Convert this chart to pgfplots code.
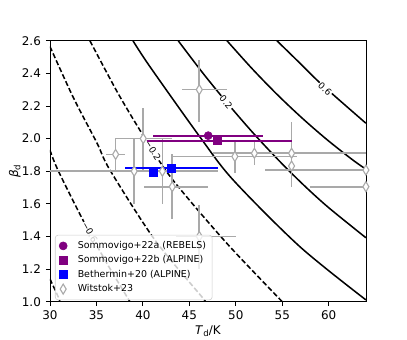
\documentclass[border=0pt]{standalone}
\usepackage{fontspec}
\setmainfont{DejaVu Sans}
\usepackage{pgfplots}
\usepackage{pgfplotstable}
\pgfplotsset{compat=1.18}
\definecolor{mplpurple}{RGB}{128,0,128}
\definecolor{mplgray}{RGB}{169,169,169}
\definecolor{mplblue}{RGB}{0,0,255}

% Witstok+23: x y x- x+ y- y+
\pgfplotstableread{
x      y     exm   exp   eym   eyp
46.07  2.30  1.90  2.94  0.20  0.18
40.04  2.00  3.04  3.06  0.20  0.19
37.07  1.903 1.05  1.05  0.10  0.10
39.07  1.80  9.50  9.00  0.20  0.20
42.10  1.80  0.00  0.00  0.20  0.20
43.16  1.705 3.00  3.87  0.20  0.20
46.07  1.40  2.50  4.00  0.20  0.19
49.90  1.89  6.70  6.70  0.10  0.10
52.00  1.91  0.90  0.90  0.07  0.07
56.00  1.91  8.50  8.50  0.205 0.19
56.00  1.832 0.00  0.00  0.00  0.00
64.00  1.807 10.9  0.00  0.00  0.00
64.00  1.705 6.00  0.00  0.00  0.00
}\witstok

\pgfplotstableread{
x      y     exm   exp
47.03  2.018 5.95  5.95
}\somma
\pgfplotstableread{
x      y     exm   exp
48.04  1.987 7.64  7.96
}\sommb
\pgfplotstableread{
x      y     exm   exp
41.12  1.791 0.50  0.50
43.09  1.818 5.02  4.95
}\beth

\begin{document}
\begin{tikzpicture}
\begin{axis}[
  scale only axis, width=227.5pt, height=187.9pt,
  xmin=30, xmax=64, ymin=1.0, ymax=2.6,
  xtick={30,35,40,45,50,55,60},
  ytick={1.0,1.2,1.4,1.6,1.8,2.0,2.2,2.4,2.6},
  yticklabel style={/pgf/number format/.cd,fixed,fixed zerofill,precision=1},
  /pgf/number format/assume math mode=true,
  tick label style={font=\fontsize{8.6}{10}\selectfont},
  tick align=outside, xtick pos=bottom, ytick pos=left,
  major tick length=3pt,
  every tick/.style={black,line width=0.6pt},
  axis line style={line width=0.6pt},
  xlabel={\textit{T}\raisebox{-0.35ex}{\fontsize{6.2}{7}\selectfont d}/K},
  ylabel={\textit{β}\raisebox{-0.35ex}{\fontsize{6.2}{7}\selectfont d}},
  label style={font=\fontsize{8.6}{10}\selectfont},
  xlabel style={at={(axis description cs:0.5,-0.112)},anchor=center},
  ylabel style={at={(axis description cs:-0.111,0.5)},anchor=center},
  legend cell align=left,
  legend style={at={(0.016,0.006)},anchor=south west,
    font=\fontsize{6.8}{8}\selectfont,
    draw=black!20,rounded corners=2pt,fill=white,
    fill opacity=0.8,draw opacity=1,text opacity=1,
    row sep=0.5pt,inner sep=2.8pt,nodes={inner sep=1.6pt}},
  legend image post style={opacity=1},
  clip mode=individual,
]
% contours
\pgfplotsset{cont/.style={black,line width=1.1pt,smooth,forget plot},
  neg/.style={dash pattern=on 3.7pt off 1.8pt}}
\addplot[cont,neg] coordinates {(30,1.14) (30.89,1.03) (31.08,1.0)};
\addplot[cont,neg] coordinates {(30,1.930) (30.86,1.807) (33.55,1.501) (36.08,1.24) (38.61,1.0)};
\addplot[cont,neg] coordinates {(30,2.565) (32.53,2.25) (35.06,1.973) (36.46,1.807) (41.30,1.378) (46.46,1.022) (46.68,1.0)};
\addplot[cont,neg] coordinates {(34.30,2.600) (37.4,2.27) (40.54,1.973) (43.23,1.746) (49.0,1.36) (55.0,1.0)};
\addplot[cont] coordinates {(38.93,2.600) (40.76,2.441) (46.14,2.010) (49.72,1.746) (56.90,1.337) (64.0,1.011)};
\addplot[cont] coordinates {(43.80,2.600) (46.49,2.399) (49.18,2.211) (51.87,2.034) (54.56,1.870) (57.25,1.718) (59.94,1.579) (64.0,1.392)};
\addplot[cont] coordinates {(49.05,2.600) (51.73,2.430) (54.42,2.272) (57.11,2.127) (59.80,1.994) (62.49,1.873) (64.0,1.812)};
\addplot[cont] coordinates {(54.42,2.600) (56.58,2.48) (58.73,2.359) (60.88,2.249) (64.0,2.094)};
\tikzset{clab/.style={font=\fontsize{6.5}{7}\selectfont,fill=white,inner sep=0.6pt}}
\node[clab,rotate=-61] at (axis cs:34.30,1.426) {−0.6};
\node[clab,rotate=-58] at (axis cs:41.08,1.929) {−0.2};
\node[clab,rotate=-50] at (axis cs:48.95,2.222) {0.2};
\node[clab,rotate=-42] at (axis cs:59.59,2.304) {0.6};

% error bars first
\addplot[forget plot,draw=none,mark=none,
  error bars/.cd,x dir=both,x explicit,y dir=both,y explicit,
  error mark=none,error bar style={mplgray,line width=1.2pt}]
  table[x=x,y=y,x error minus=exm,x error plus=exp,y error minus=eym,y error plus=eyp]{\witstok};
\addplot[forget plot,draw=none,mark=none,
  error bars/.cd,x dir=both,x explicit,error mark=none,
  error bar style={mplpurple,line width=1.4pt}]
  table[x=x,y=y,x error minus=exm,x error plus=exp]{\somma};
\addplot[forget plot,draw=none,mark=none,
  error bars/.cd,x dir=both,x explicit,error mark=none,
  error bar style={mplpurple,line width=1.4pt}]
  table[x=x,y=y,x error minus=exm,x error plus=exp]{\sommb};
\addplot[forget plot,draw=none,mark=none,
  error bars/.cd,x dir=both,x explicit,error mark=none,
  error bar style={mplblue,line width=1.4pt}]
  table[x=x,y=y,x error minus=exm,x error plus=exp]{\beth};

% markers
\addplot[forget plot,only marks,mark=diamond*,mark size=3.6pt,
  mark options={fill=white,draw=mplgray,line width=0.8pt,xscale=0.8}]
  table[x=x,y=y]{\witstok};
\addplot[forget plot,only marks,mark=*,mark size=2.9pt,mark options={fill=mplpurple,draw=mplpurple}]
  table[x=x,y=y]{\somma};
\addplot[forget plot,only marks,mark=square*,mark size=2.9pt,mark options={fill=mplpurple,draw=mplpurple}]
  table[x=x,y=y]{\sommb};
\addplot[forget plot,only marks,mark=square*,mark size=2.9pt,mark options={fill=mplblue,draw=mplblue}]
  table[x=x,y=y]{\beth};

\addlegendimage{only marks,mark=*,mark size=2.9pt,mark options={fill=mplpurple,draw=mplpurple}}
\addlegendentry{\hspace{6pt}Sommovigo+22a (REBELS)}
\addlegendimage{only marks,mark=square*,mark size=2.9pt,mark options={fill=mplpurple,draw=mplpurple}}
\addlegendentry{\hspace{6pt}Sommovigo+22b (ALPINE)}
\addlegendimage{only marks,mark=square*,mark size=2.9pt,mark options={fill=mplblue,draw=mplblue}}
\addlegendentry{\hspace{6pt}Bethermin+20 (ALPINE)}
\addlegendimage{only marks,mark=diamond*,mark size=3.6pt,mark options={fill=white,draw=mplgray,line width=0.8pt,xscale=0.8}}
\addlegendentry{\hspace{6pt}Witstok+23}

\coordinate (bbll) at (rel axis cs:-0.158,-0.143);
\coordinate (bbur) at (rel axis cs:1.130,1.156);
\end{axis}
\pgfresetboundingbox
\path[use as bounding box] (bbll) rectangle (bbur);
\end{tikzpicture}
\end{document}
